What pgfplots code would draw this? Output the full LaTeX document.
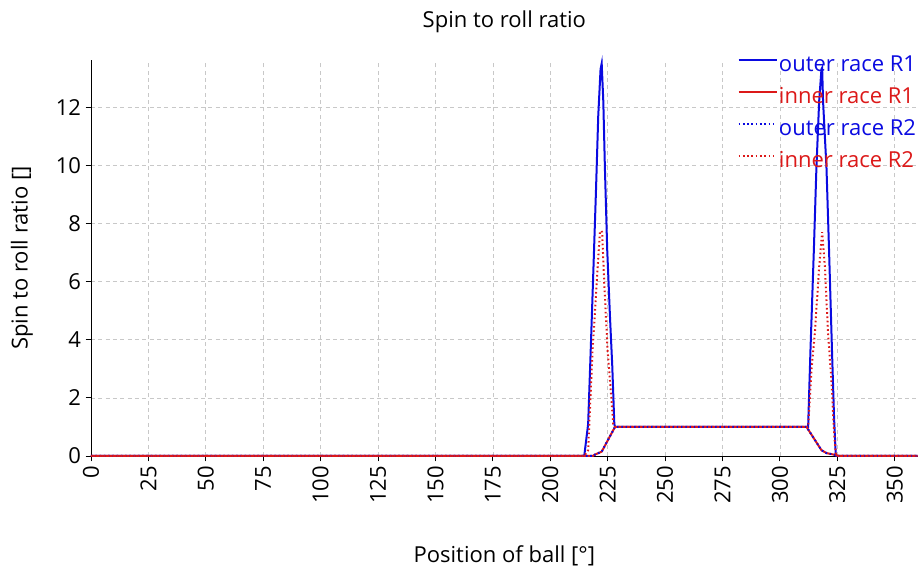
\documentclass[border=0pt]{standalone}
\usepackage{fontspec}
\setmainfont{Open Sans}
\usepackage{pgfplots}
\pgfplotsset{compat=1.18}
\definecolor{myblue}{RGB}{10,10,225}
\definecolor{myred}{RGB}{220,25,25}
\definecolor{gridgray}{RGB}{200,200,200}
\newcommand{\fs}{\fontsize{16.5pt}{19pt}\selectfont}
\begin{document}
\begin{tikzpicture}
\useasboundingbox (-68.25pt,-88.5pt) rectangle (623.25pt,342pt);
\begin{axis}[
  scale only axis,
  width=620pt, height=297pt,
  at={(0,0)}, anchor=south west,
  xmin=0, xmax=360, ymin=0, ymax=13.62,
  axis lines=left,
  axis line style={-, black, line width=0.6pt},
  xtick={0,25,...,350},
  ytick={0,2,...,12},
  tick align=outside,
  major tick length=4pt,
  tick style={black, line width=0.6pt},
  /pgf/number format/assume math mode=true,
  tick label style={font=\fs},
  xticklabel style={rotate=90, anchor=east},
  grid=major,
  major grid style={gridgray, dash pattern=on 3pt off 2.5pt, line width=0.5pt},
  title={\fs Spin to roll ratio},
  title style={at={(0.5,1)}, anchor=center, yshift=22.5pt},
  xlabel={\fs Position of ball [°]},
  xlabel style={at={(0.5,0)}, anchor=center, yshift=-75pt},
  ylabel={\fs Spin to roll ratio []},
  ylabel style={at={(axis description cs:-0.0835,0.5)}, anchor=center},
  legend style={draw=none, fill=none, at={(1,1)}, anchor=north east, inner sep=0pt, yshift=4pt,
    row sep=8.4pt, font=\fs, nodes={inner sep=1pt}, cells={anchor=west}},
  legend image code/.code={\draw[#1] (0pt,3.5pt) -- (28.5pt,3.5pt);},
  clip=false,
]
\addplot[myblue, line width=1.5pt] coordinates {
(0,0) (214.8,0) (216.5,1.1) (217.6,3.6) (218.7,6.2) (219.9,9.1) (220.9,11.7) (221.9,13.3) (222.4,13.5)
(223.1,12.2) (223.8,9.9) (224.8,7.1) (226.0,4.8) (227.0,3.1) (227.9,1.1) (228.2,1.0)
(312.3,1.0) (313.3,3.6) (314.8,7.1) (315.9,9.9) (317.1,12.2) (318.1,13.3) (318.4,13.35)
(318.8,12.2) (320.3,9.9) (321.4,7.1) (322.7,3.6) (323.6,1.3) (324.3,0.1) (324.6,0) (360,0)
};
\addlegendentry{\textcolor{myblue}{outer race R1}}
\addplot[myred, line width=1.5pt] coordinates {
(0,0) (218.5,0) (219.5,0.05) (222.4,0.15) (228.2,1.0) (311.6,1.0) (318.1,0.2) (320.3,0.1) (324.6,0.03) (325.5,0) (360,0)
};
\addlegendentry{\textcolor{myred}{inner race R1}}
\addplot[myblue, line width=1.5pt, dash pattern=on 1.2pt off 2pt] coordinates {
(0,0) (218.5,0) (219.5,0.05) (222.4,0.15) (228.2,1.0) (311.6,1.0) (318.1,0.2) (320.3,0.1) (324.6,0.03) (325.5,0) (360,0)
};
\addlegendentry{\textcolor{myblue}{outer race R2}}
\addplot[myred, line width=1.5pt, dash pattern=on 1.2pt off 2pt] coordinates {
(0,0) (214.8,0) (216.5,0.2) (218.4,3.6) (220.2,5.9) (221.6,7.7) (222.1,7.75) (222.6,7.7) (223.5,5.95)
(225.0,3.6) (226.7,1.9) (227.4,1.1) (228.2,1.0) (312.3,1.0) (313.8,3.0) (315.2,4.2) (317.1,6.5)
(318.4,7.7) (319.6,6.5) (321.0,4.2) (322.5,2.5) (323.6,0.8) (324.3,0.1) (324.6,0) (360,0)
};
\addlegendentry{\textcolor{myred}{inner race R2}}
\end{axis}
\end{tikzpicture}
\end{document}
